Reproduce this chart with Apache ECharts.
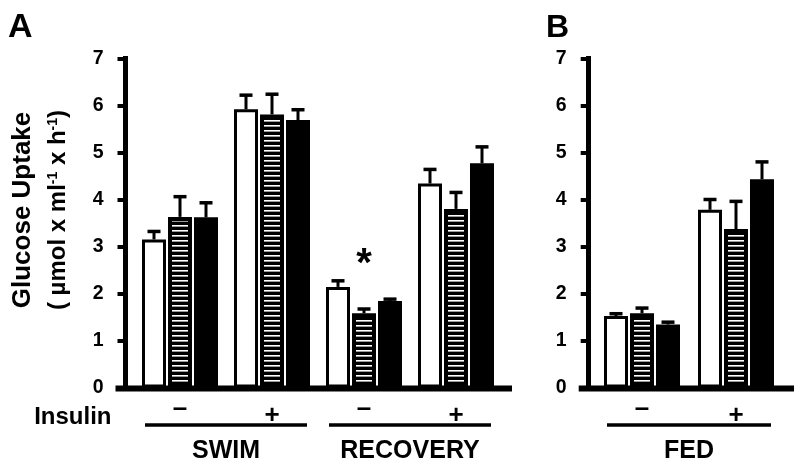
<!DOCTYPE html>
<html><head><meta charset="utf-8">
<script src="https://cdn.jsdelivr.net/npm/echarts@6/dist/echarts.min.js"></script>
<style>html,body{margin:0;padding:0;background:#fff}#c{width:794px;height:463px}</style>
</head><body><div id="c"></div>
<script>
// ---------------- data ----------------
const categoriesA = ['SWIM –', 'SWIM +', 'RECOVERY –', 'RECOVERY +'];
const groupsA = ['SWIM', 'RECOVERY'];
const openA = [3.15, 5.92, 2.14, 4.34];
const openErrA = [0.17, 0.30, 0.13, 0.30];
const stripedA = [3.63, 5.81, 1.58, 3.80];
const stripedErrA = [0.43, 0.43, 0.09, 0.35];
const solidA = [3.62, 5.69, 1.84, 4.77];
const solidErrA = [0.31, 0.22, 0.04, 0.35];
const significanceA = ['', '', '*', ''];

const categoriesB = ['FED –', 'FED +'];
const groupsB = ['FED'];
const openB = [1.52, 3.78];
const openErrB = [0.05, 0.22];
const stripedB = [1.58, 3.37];
const stripedErrB = [0.11, 0.59];
const solidB = [1.34, 4.43];
const solidErrB = [0.05, 0.37];

const yTicks = [0, 1, 2, 3, 4, 5, 6, 7];
const panelLabels = ['A', 'B'];
const rowLabel = 'Insulin';

// ---------------- style / layout ----------------
const FONT = '"Liberation Sans", Arial, Helvetica, sans-serif';
const BW = 24, PITCH = 26, CAP = 13;
const GRID_TOP = 58.5, GRID_H = 329;
const A_LEFT = 134, A_W = 368, A_AXIS = 125.5;
const B_LEFT = 595, B_W = 188, B_AXIS = 588.7;

const pc = document.createElement('canvas');
pc.width = 4; pc.height = 5;
const g = pc.getContext('2d');
g.fillStyle = '#000'; g.fillRect(0, 0, 4, 5);
g.fillStyle = '#fff'; g.fillRect(0, 0, 4, 1.6);

const styles = [
  {color: '#fff', borderColor: '#000', borderWidth: 3},
  {color: {image: pc, repeat: 'repeat'}, borderColor: '#000', borderWidth: 4},
  {color: '#000', borderColor: '#000', borderWidth: 3}
];
const names = ['Open', 'Striped', 'Solid'];

function barSeries(idx, data, ai, extra) {
  return Object.assign({
    type: 'bar', name: names[idx], xAxisIndex: ai, yAxisIndex: ai, data: data,
    barWidth: BW, barGap: ((PITCH - BW) / BW * 100).toFixed(2) + '%',
    itemStyle: styles[idx], silent: true, z: 2
  }, extra || {});
}
function errSeries(slot, means, errs, ai) {
  return {
    type: 'custom', xAxisIndex: ai, yAxisIndex: ai, silent: true, z: 3,
    data: means.map((m, i) => [i, m, m + errs[i]]),
    renderItem: function (params, api) {
      const b = api.coord([api.value(0), api.value(1)]);
      const t = api.coord([api.value(0), api.value(2)]);
      const x = b[0] + (slot - 1) * PITCH;
      return {type: 'group', children: [
        {type: 'line', shape: {x1: x, y1: b[1], x2: x, y2: t[1]}, style: {stroke: '#000', lineWidth: 3}},
        {type: 'line', shape: {x1: x - CAP / 2, y1: t[1], x2: x + CAP / 2, y2: t[1]}, style: {stroke: '#000', lineWidth: 3.5}}
      ]};
    }
  };
}

function yAxis(gi, offset, withName) {
  const ax = {
    type: 'value', gridIndex: gi, min: yTicks[0], max: yTicks[yTicks.length - 1], interval: 1,
    offset: offset,
    axisLine: {show: true, lineStyle: {color: '#000', width: 5, cap: 'square'}},
    axisTick: {show: true, inside: false, length: 8, lineStyle: {color: '#000', width: 4}},
    axisLabel: {margin: 22, color: '#000', fontSize: 19.5, fontWeight: 'bold', fontFamily: FONT},
    splitLine: {show: false}
  };
  if (withName) {
    ax.name = '{a|Glucose Uptake}\n{b|( µmol x ml}{s|-1}{b| x h}{s|-1}{b|)}';
    ax.nameLocation = 'middle';
    ax.nameRotate = 90;
    ax.nameGap = 50;
    ax.nameTextStyle = {
      padding: [0, 0, 0, 26],
      rich: {
        a: {fontSize: 26, fontWeight: 'bold', fontFamily: FONT, color: '#000', lineHeight: 35},
        b: {fontSize: 24, fontWeight: 'bold', fontFamily: FONT, color: '#000', lineHeight: 35},
        s: {fontSize: 14, fontWeight: 'bold', fontFamily: FONT, color: '#000', padding: [0, 0, 10, 0]}
      }
    };
  }
  return ax;
}

function signAxis(gi, cats) {
  return {
    type: 'category', gridIndex: gi, data: cats, position: 'bottom',
    axisLine: {show: false, onZero: false}, axisTick: {show: false},
    axisLabel: {
      interval: 0, margin: 8.5, color: '#000',
      formatter: v => v.endsWith('+') ? '{p|+}' : '{m|–}',
      rich: {
        p: {fontSize: 26, fontWeight: 'bold', fontFamily: FONT, color: '#000', padding: [7, 0, 0, 0]},
        m: {fontSize: 26, fontWeight: 'bold', fontFamily: FONT, color: '#000'}
      }
    }
  };
}
function groupAxis(gi, groups) {
  return {
    type: 'category', gridIndex: gi, data: groups, position: 'bottom',
    axisLine: {show: false, onZero: false}, axisTick: {show: false},
    axisLabel: {interval: 0, margin: 51, color: '#000', fontSize: 25, fontWeight: 'bold', fontFamily: FONT}
  };
}

const option = {
  animation: false,
  backgroundColor: '#fff',
  title: [
    {text: panelLabels[0], left: 8, top: 11, padding: 0, textStyle: {fontSize: 34, fontWeight: 'bold', fontFamily: FONT, color: '#000'}},
    {text: panelLabels[1], left: 546, top: 12, padding: 0, textStyle: {fontSize: 32, fontWeight: 'bold', fontFamily: FONT, color: '#000'}}
  ],
  grid: [
    {left: A_LEFT, top: GRID_TOP, width: A_W, height: GRID_H, containLabel: false, outerBoundsMode: 'none'},
    {left: B_LEFT, top: GRID_TOP, width: B_W, height: GRID_H, containLabel: false, outerBoundsMode: 'none'}
  ],
  xAxis: [
    signAxis(0, categoriesA),
    signAxis(1, categoriesB),
    groupAxis(0, groupsA),
    groupAxis(1, groupsB)
  ],
  yAxis: [
    yAxis(0, A_LEFT - A_AXIS, true),
    yAxis(1, B_LEFT - B_AXIS, false)
  ],
  series: [
    barSeries(0, openA, 0),
    barSeries(1, stripedA, 0, {label: {show: true, position: 'top', distance: 28, formatter: p => significanceA[p.dataIndex], fontSize: 40, fontWeight: 'bold', fontFamily: FONT, color: '#000'}}),
    barSeries(2, solidA, 0),
    barSeries(0, openB, 1),
    barSeries(1, stripedB, 1),
    barSeries(2, solidB, 1),
    errSeries(0, openA, openErrA, 0),
    errSeries(1, stripedA, stripedErrA, 0),
    errSeries(2, solidA, solidErrA, 0),
    errSeries(0, openB, openErrB, 1),
    errSeries(1, stripedB, stripedErrB, 1),
    errSeries(2, solidB, solidErrB, 1)
  ]
};

const chart = echarts.init(document.getElementById('c'));
chart.setOption(option);

// axis baselines, group underlines and row label, placed via the chart's own scales
const y0A = chart.convertToPixel({yAxisIndex: 0}, 0);
const y0B = chart.convertToPixel({yAxisIndex: 1}, 0);
const cA = categoriesA.map((c, i) => chart.convertToPixel({xAxisIndex: 0}, i));
const cB = categoriesB.map((c, i) => chart.convertToPixel({xAxisIndex: 1}, i));
const HALF = 35, LINE_Y = 425;
const lineStyle = {stroke: '#000', lineWidth: 6};
const gl = {stroke: '#000', lineWidth: 3.5};
chart.setOption({
  graphic: [
    {type: 'line', z: 10, shape: {x1: A_AXIS - 10, y1: y0A + 1, x2: A_LEFT + A_W + 10, y2: y0A + 1}, style: lineStyle},
    {type: 'line', z: 10, shape: {x1: B_AXIS - 10, y1: y0B + 1, x2: 794, y2: y0B + 1}, style: lineStyle},
    {type: 'line', shape: {x1: cA[0] - HALF, y1: LINE_Y, x2: cA[1] + HALF, y2: LINE_Y}, style: gl},
    {type: 'line', shape: {x1: cA[2] - HALF, y1: LINE_Y, x2: cA[3] + HALF, y2: LINE_Y}, style: gl},
    {type: 'line', shape: {x1: cB[0] - HALF, y1: LINE_Y, x2: cB[1] + HALF, y2: LINE_Y}, style: gl},
    {type: 'text', x: 111.5, y: 417.5, style: {text: rowLabel, fontSize: 24, fontWeight: 'bold', fontFamily: FONT, fill: '#000', align: 'right', verticalAlign: 'middle'}}
  ]
});
</script>
</body></html>
